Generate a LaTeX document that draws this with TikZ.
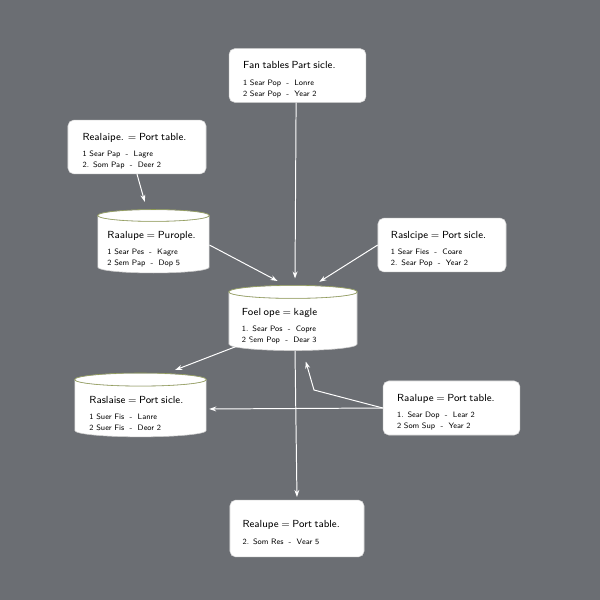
\documentclass[tikz,border=0pt]{standalone}
\usepackage{tikz}
\usetikzlibrary{arrows.meta,positioning}
\usetikzlibrary{calc}
\usetikzlibrary{shapes.geometric}
\tikzset{>=latex}
\definecolor{bg-color}{HTML}{6B6E73}
\definecolor{rim-color}{HTML}{8E9A52}
\newcommand{\tbltext}[2]{{\fontsize{7.3}{9}\selectfont\rule{0pt}{11pt}#1}\\[4pt]#2}

\begin{document}
\begin{tikzpicture}[x=0.025cm, y=-0.025cm,
                >={Stealth[length=5pt,width=3.5pt]},
                every node/.append style={align=left, font=\sffamily\fontsize{5.6}{7.7}\selectfont},
                tbl/.style={draw=white!85!black, fill=white, rounded corners=4pt, inner xsep=1pt, text width=2.72cm},
                drum/.style={cylinder, shape border rotate=90, aspect=0.12, draw=white!80!black, thin,
                             fill=white, inner xsep=1pt, inner ysep=1pt, text width=2.55cm},
                link/.style={->, white, line width=0.7pt, shorten >=2pt}]

               \fill[bg-color] (0,0) rectangle (600,600);
               \useasboundingbox (0,0) rectangle (600,600);

               % tables
               \node [tbl, minimum width=3.42cm, minimum height=1.27cm] (top) at (297.5,75.5)
                     {\tbltext{Fan tables Part sicle.}{1 Sear Pop ~-~ Lonre\\ 2 Sear Pop ~-~ Year 2}};
               \node [tbl, minimum width=3.45cm, minimum height=1.3cm] (lu) at (137,147)
                     {\tbltext{Realaipe. = Port table.}{1 Sear Pap ~-~ Lagre\\ 2. Som Pap ~-~ Deer 2}};
               \node [drum, minimum width=2.78cm, minimum height=1.15cm, text width=2.3cm] (cylL) at (153.5,245)
                     {\tbltext{Raalupe = Purople.}{1 Sear Pes ~-~ Kagre\\ 2 Sem Pap ~-~ Dop 5}};
               \node [tbl, minimum width=3.2cm, minimum height=1.25cm, text width=2.55cm] (rt) at (442,245)
                     {\tbltext{Raslcipe = Port sicle.}{1 Sear Fies ~-~ Coare\\ 2. Sear Pop ~-~ Year 2}};
               \node [drum, minimum width=3.2cm, minimum height=1.3cm] (cylC) at (293,322)
                     {\tbltext{Foel ope = kagle}{1. Sear Pos ~-~ Copre\\ 2 Sem Pop ~-~ Dear 3}};
               \node [drum, minimum width=3.28cm, minimum height=1.3cm] (cylLL) at (140.5,409)
                     {\tbltext{Raslaise = Port sicle.}{1 Suer Fis ~-~ Lanre\\ 2 Suer Fis ~-~ Deor 2}};
               \node [tbl, minimum width=3.42cm, minimum height=1.35cm] (rLL) at (451.5,408)
                     {\tbltext{Raalupe = Port table.}{1. Sear Dop ~-~ Lear 2\\ 2 Som Sup ~-~ Year 2}};
               \node [tbl, minimum width=3.35cm, minimum height=1.42cm] (bot) at (297,528.5)
                     {\tbltext{Realupe = Port table.}{2. Som Res ~-~ Vear 5}};

               % rims of the drums
               \foreach \c in {cylL,cylC,cylLL}
                  \draw[rim-color, thin] let \p1=(\c.before top), \p2=(\c.after top), \p3=(\c.top) in
                        ($(\p1)!0.5!(\p2)$) ellipse ({abs(\x2-\x1)/2} and {abs(\y3-\y1)});

               \coordinate (kink) at (314,390);

               % links
               \draw[link] ([xshift=-1pt]top.south) -- ($(cylC.north)+(2,-4)$);
               \draw[link] (lu.south) -- ($(cylL.north)+(-8,-5)$);
               \draw[link] (cylL.east) -- ($(cylC.north)+(-13,-3)$);
               \draw[link] (rt.west) -- ($(cylC.north)+(24,-2)$);
               \draw[link] ($(cylC.center)+(-40,18)$) -- ($(cylLL.north)+(32,-2)$);
               \draw[link] (rLL.west) -- (cylLL.east);
               \draw[link] (rLL.west) -- (kink) -- ($(cylC.south)+(12,8)$);
               \draw[link] ($(cylC.south)+(2,0)$) -- (bot.north);
        \end{tikzpicture}
\end{document}
